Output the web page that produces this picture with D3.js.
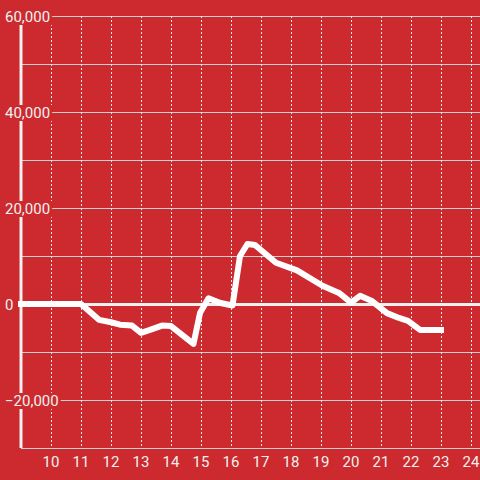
<!DOCTYPE html>
<html>
<head>
<meta charset="utf-8">
<script src="https://cdn.jsdelivr.net/npm/d3@7"></script>
<style>
html,body{margin:0;padding:0;background:#cc2a2e;}
svg{display:block;}
text{font-family:Roboto,"Liberation Sans",sans-serif;}
</style>
</head>
<body>
<script>
const hours = [9, 11, 11.6, 12, 12.3, 12.7, 13, 13.3, 13.7, 14, 14.75, 14.97, 15.25, 15.65, 16.05, 16.3, 16.55, 16.8, 17.5, 18.2, 19.05, 19.6, 20, 20.3, 20.7, 21.2, 21.6, 21.9, 22.3, 23];
const values = [0, 0, -3300, -3800, -4300, -4500, -6000, -5400, -4500, -4600, -8300, -1800, 1200, 200, -300, 10000, 12500, 12300, 8600, 7000, 3800, 2300, 300, 1700, 600, -1900, -2900, -3500, -5400, -5400];
const xTicks = [10, 11, 12, 13, 14, 15, 16, 17, 18, 19, 20, 21, 22, 23, 24];
const yGrid = [-30000, -20000, -10000, 0, 10000, 20000, 30000, 40000, 50000, 60000];
const yLabels = [60000, 40000, 20000, 0, -20000];

const W = 480, H = 480, bg = "#cc2a2e";
const x = d3.scaleLinear().domain([9, 24.3]).range([21, 480]);
const y = d3.scaleLinear().domain([-30000, 60000]).range([448, 16]);

const svg = d3.select("body").append("svg").attr("width", W).attr("height", H);
svg.append("rect").attr("width", W).attr("height", H).attr("fill", bg);

// horizontal grid
svg.append("g").selectAll("line").data(yGrid.filter(d => d !== 0)).join("line")
  .attr("x1", 21).attr("x2", W)
  .attr("y1", d => y(d) + 0.5).attr("y2", d => y(d) + 0.5)
  .attr("stroke", "#d0d0d0").attr("stroke-width", 1);

// vertical dashed grid
svg.append("g").selectAll("line").data(xTicks).join("line")
  .attr("x1", d => x(d) + 0.5).attr("x2", d => x(d) + 0.5)
  .attr("y1", y(60000)).attr("y2", y(-30000))
  .attr("stroke", "#e8e8e8").attr("stroke-width", 1).attr("stroke-dasharray", "2,2");

// zero line
svg.append("line").attr("x1", 21).attr("x2", W)
  .attr("y1", y(0) + 0.5).attr("y2", y(0) + 0.5)
  .attr("stroke", "#f0f0f0").attr("stroke-width", 3);

// left axis line
svg.append("line").attr("x1", 21).attr("x2", 21)
  .attr("y1", y(60000)).attr("y2", y(-30000))
  .attr("stroke", "#f0f0f0").attr("stroke-width", 3);

// data line
const line = d3.line().x((d, i) => x(hours[i])).y(d => y(d));
svg.append("path").datum(values)
  .attr("d", line)
  .attr("fill", "none").attr("stroke", "#ffffff")
  .attr("stroke-width", 6).attr("stroke-linejoin", "round").attr("stroke-linecap", "square");

// x labels
svg.append("g").selectAll("text").data(xTicks).join("text")
  .attr("x", d => x(d)).attr("y", 467)
  .attr("text-anchor", "middle").attr("font-size", 15).attr("fill", "#f0f0f0")
  .text(d => d);

// y labels with background
const fmt = d3.format(",");
const yl = svg.append("g");
yLabels.forEach(v => {
  const g = yl.append("g");
  const t = g.append("text").attr("x", 5).attr("y", y(v) + 6)
    .attr("font-size", 15).attr("fill", "#f0f0f0").text(fmt(v));
  const b = t.node().getBBox();
  g.insert("rect", "text").attr("x", b.x - 2).attr("y", b.y + 1).attr("width", b.width + 4).attr("height", b.height - 2)
    .attr("fill", bg);
});
</script>
</body>
</html>
